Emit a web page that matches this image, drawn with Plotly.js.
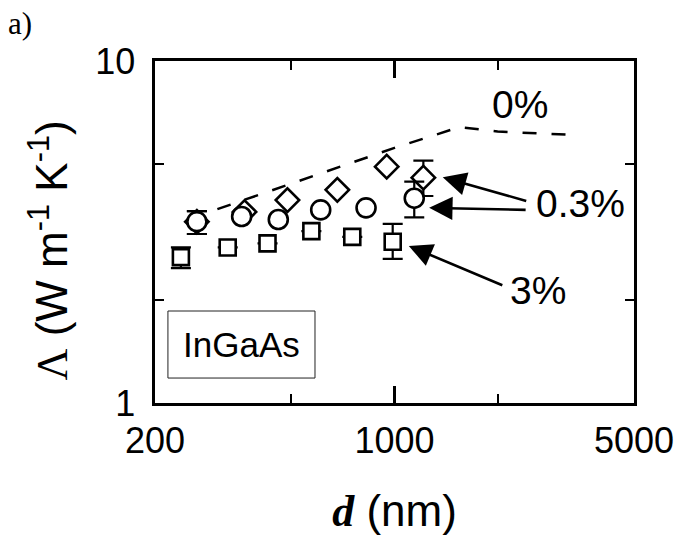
<!DOCTYPE html>
<html>
<head>
<meta charset="utf-8">
<script src="https://cdn.plot.ly/plotly-3.0.1.min.js"></script>
<style>html,body{margin:0;padding:0;background:#fff;}#chart{width:685px;height:537px;}</style>
</head>
<body>
<div id="chart"></div>
<script>
// ---- data ----
const dLine = [253, 1000, 1550, 2000, 3300];       // 0% curve, d (nm)
const kLine = [3.46, 5.57, 6.41, 6.22, 6.08];      // 0% curve, Λ

const dSquare = [238, 326, 426, 572, 753, 988];    // 3%
const kSquare = [2.67, 2.85, 2.93, 3.18, 3.06, 2.96];
const eSquareUp = [0.18, null, null, null, null, 0.38];
const eSquareDn = [0.19, null, null, null, null, 0.32];

const dCircle = [265, 358, 458, 609, 826, 1142];   // 0.3% (circles)
const kCircle = [3.39, 3.51, 3.44, 3.67, 3.72, 3.97];
const eCircleUp = [0.25, null, null, null, null, 0.47];
const eCircleDn = [0.27, null, null, null, null, 0.48];

const dDiamond = [265, 365, 487, 681, 949, 1214];  // 0.3% (diamonds)
const kDiamond = [3.39, 3.62, 3.92, 4.20, 4.91, 4.56];
const eDiamondUp = [0.25, null, null, null, null, 0.55];
const eDiamondDn = [0.27, null, null, null, null, 0.53];

const xTickVals = [200, 1000, 5000];
const xTickText = ['200', '1000', '5000'];
const xMinorVals = [500, 2000];
const yTickVals = [1, 10];
const yTickText = ['1', '10'];
const yMinorVals = [2, 5];

const labelZero = '0%';
const labelLow = '0.3%';
const labelHigh = '3%';
const labelMaterial = 'InGaAs';
const labelPanel = 'a)';

// ---- traces ----
const sans = 'Liberation Sans, Arial, sans-serif';
const serif = 'Liberation Serif, Times New Roman, serif';
const errStyle = {type: 'data', symmetric: false, color: '#000', thickness: 2.2, width: 10};

const traces = [
  {x: dLine, y: kLine, type: 'scatter', mode: 'lines',
   line: {color: '#000', width: 2.5, dash: '14px,15px'}, hoverinfo: 'skip'},
  {x: dSquare, y: kSquare, type: 'scatter', mode: 'markers',
   marker: {symbol: 'square', size: 16, color: '#fff', line: {color: '#000', width: 2.6}},
   error_y: Object.assign({array: eSquareUp, arrayminus: eSquareDn}, errStyle)},
  {x: dDiamond, y: kDiamond, type: 'scatter', mode: 'markers',
   marker: {symbol: 'diamond', size: 18, color: '#fff', line: {color: '#000', width: 2.6}},
   error_y: Object.assign({array: eDiamondUp, arrayminus: eDiamondDn}, errStyle)},
  {x: dCircle, y: kCircle, type: 'scatter', mode: 'markers',
   marker: {symbol: 'circle', size: 19, color: '#fff', line: {color: '#000', width: 2.6}},
   error_y: Object.assign({array: eCircleUp, arrayminus: eCircleDn}, errStyle)}
];

const L = Math.log10;
const arrowCommon = {showarrow: true, arrowhead: 2, arrowsize: 1.8, arrowwidth: 2.6,
  arrowcolor: '#000', standoff: 0, text: '', xref: 'x', yref: 'y', axref: 'pixel', ayref: 'pixel'};

const layout = {
  width: 685, height: 537,
  margin: {l: 155, r: 51, t: 61, b: 134, pad: 0},
  paper_bgcolor: '#fff', plot_bgcolor: '#fff',
  showlegend: false,
  font: {family: sans, color: '#000', size: 36},
  xaxis: {
    type: 'log', range: [L(200), L(5000)],
    tickmode: 'array', tickvals: xTickVals, ticktext: xTickText,
    ticks: 'inside', ticklen: 17, tickwidth: 2.2, tickcolor: '#000',
    minor: {tickmode: 'array', tickvals: xMinorVals, ticks: 'inside', ticklen: 9, tickwidth: 2.2, tickcolor: '#000', showgrid: false},
    showline: true, linewidth: 2.6, linecolor: '#000', mirror: 'allticks',
    showgrid: false, zeroline: false,
    tickfont: {size: 36, family: sans},
    ticklabelstandoff: 4,
    title: {text: '<span style="font-family:Liberation Serif;font-weight:bold;font-style:italic">d</span> (nm)',
            font: {size: 44, family: sans}, standoff: 36}
  },
  yaxis: {
    type: 'log', range: [0, 1],
    tickmode: 'array', tickvals: yTickVals, ticktext: yTickText,
    ticks: 'inside', ticklen: 17, tickwidth: 2.2, tickcolor: '#000',
    minor: {tickmode: 'array', tickvals: yMinorVals, ticks: 'inside', ticklen: 9, tickwidth: 2.2, tickcolor: '#000', showgrid: false},
    showline: true, linewidth: 2.6, linecolor: '#000', mirror: 'allticks',
    showgrid: false, zeroline: false,
    tickfont: {size: 36, family: sans},
    ticklabelstandoff: 10,
    title: {text: '<span style="font-family:Liberation Serif">Λ</span> (W m<sup>-1</sup> K<sup>-1</sup>)&nbsp;&nbsp;&nbsp;',
            font: {size: 44, family: sans}, standoff: 14}
  },
  shapes: [
    {type: 'rect', xref: 'paper', yref: 'paper', x0: 0.027, x1: 0.334, y0: 0.073, y1: 0.269,
     line: {color: '#222', width: 1}, fillcolor: 'rgba(0,0,0,0)'}
  ],
  annotations: [
    {text: labelMaterial, xref: 'paper', yref: 'paper', x: 0.18, y: 0.171, showarrow: false,
     font: {size: 35, family: sans}, xanchor: 'center', yanchor: 'middle'},
    {text: labelPanel, xref: 'paper', yref: 'paper', x: -0.31, y: 1.165, showarrow: false,
     font: {size: 31, family: serif}, xanchor: 'left', yanchor: 'top', borderpad: 0},
    {text: labelZero, xref: 'x', yref: 'y', x: L(2326), y: L(7.44), showarrow: false,
     font: {size: 39, family: sans}},
    {text: labelLow, xref: 'x', yref: 'y', x: L(3480), y: L(3.84), showarrow: false,
     font: {size: 39, family: sans}},
    {text: labelHigh, xref: 'x', yref: 'y', x: L(2624), y: L(2.14), showarrow: false,
     font: {size: 39, family: sans}},
    Object.assign({x: L(1383), y: L(4.57), ax: 85, ay: 24}, arrowCommon),
    Object.assign({x: L(1262), y: L(3.72), ax: 98, ay: 2}, arrowCommon),
    Object.assign({x: L(1101), y: L(2.88), ax: 95, ay: 40}, arrowCommon)
  ]
};

Plotly.newPlot('chart', traces, layout, {staticPlot: true, displayModeBar: false});
</script>
</body>
</html>
